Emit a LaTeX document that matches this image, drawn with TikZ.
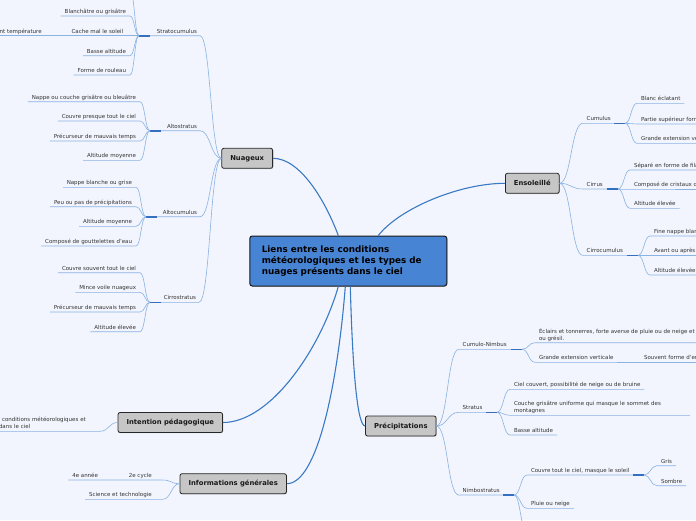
\documentclass[tikz,border=0pt]{standalone}
\usepackage{fontspec}
\setmainfont{DejaVu Sans}
\usetikzlibrary{calc,shadows}
\definecolor{bgc}{RGB}{242,245,253}
\definecolor{linec}{RGB}{138,178,226}
\definecolor{mainc}{RGB}{58,122,196}
\definecolor{stubc}{RGB}{52,112,190}
\definecolor{boxg}{RGB}{198,198,198}
\definecolor{mainfill}{RGB}{72,132,212}
\definecolor{txt}{RGB}{51,51,51}
\newcommand{\uldp}{\rule[-2.7pt]{0pt}{0pt}}
\tikzset{
 mm/.style={to path={let \p1=(\tikztostart), \p2=(\tikztotarget) in .. controls ({(\x1+\x2)/2},\y1) and ({(\x1+\x2)/2},\y2) .. (\tikztotarget)}},
 leaf/.style={font=\fontsize{5.5}{7}\selectfont, text=txt, inner xsep=4pt, inner ysep=0pt, outer sep=0pt, align=left, execute at end node={\uldp}},
 leafL/.style={leaf, anchor=south east},
 leafR/.style={leaf, anchor=south west},
 ul/.style={draw=linec, line width=0.6pt},
 stub/.style={draw=stubc, line width=1.6pt},
 l1/.style={draw=black!85, fill=boxg, rounded corners=2pt, line width=0.8pt, inner xsep=8.5pt, minimum height=20pt, font=\fontsize{6.8}{8}\selectfont\bfseries, text=black!90, drop shadow={shadow xshift=0.7pt, shadow yshift=-0.7pt, opacity=0.35}},
 maincon/.style={draw=mainc, line width=1.1pt},
}
\newcommand{\mmL}[4]{\node[leafL] (#1) at (#2) {#3};\draw[ul] (#1.south west) -- (#1.south east) to[mm] (#4);}
\newcommand{\mmR}[4]{\node[leafR] (#1) at (#2) {#3};\draw[ul] (#4) to[mm] (#1.south west) -- (#1.south east);}
\begin{document}
\begin{tikzpicture}[x=1pt,y=-1pt]
\fill[bgc] (0,0) rectangle (696,520);
\useasboundingbox (0,0) rectangle (696,520);
\clip (0,0) rectangle (696,520);

% central and level-1 nodes
\node[draw=black!90, line width=1pt, fill=mainfill, rounded corners=2.5pt, text width=173pt, align=left, inner xsep=12pt, minimum height=50pt, font=\fontsize{8.8}{11.2}\selectfont\bfseries, text=black, drop shadow={shadow xshift=0.7pt, shadow yshift=-0.7pt, opacity=0.35}] (main) at (348.3,261) {Liens entre les conditions\\météorologiques et les types de\\nuages présents dans le ciel};
\node[l1] (nua) at (247.2,158.3) {Nuageux};
\node[l1] (ens) at (532.3,183.3) {Ensoleillé};
\node[l1] (pre) at (400.8,426) {Précipitations};
\node[l1] (int) at (170.3,422.5) {Intention pédagogique};
\node[l1] (inf) at (233.2,483.7) {Informations générales};

\draw[maincon] (nua.east) .. controls (300,158.3) and (325,200) .. ($(main.north)+(-10,0)$);
\draw[maincon] ($(main.north)+(30,0)$) .. controls (400,208) and (460,183.3) .. (ens.west);
\draw[maincon] ($(main.south)+(2,0)$) .. controls (352,350) and (356,426) .. (pre.west);
\draw[maincon] ($(main.south)+(-10,0)$) .. controls (320,350) and (270,422.5) .. (int.east);
\draw[maincon] ($(main.south)+(-3,0)$) .. controls (338,380) and (318,483.7) .. (inf.east);

% Nuageux
\node[leafL, inner xsep=3pt] (stc) at (200,35.7) {Stratocumulus};
\coordinate (jstc) at (139,35.7);
\draw[ul] (jstc) -- (stc.south east) to[mm] (nua.west);
\draw[stub] (jstc) -- ++(11,0);
\node[leafL, inner xsep=3pt] (ast) at (200,130.7) {Altostratus};
\coordinate (jast) at (150,130.7);
\draw[ul] (jast) -- (ast.south east) to[mm] (nua.west);
\draw[stub] (jast) -- ++(11,0);
\node[leafL, inner xsep=3pt] (acu) at (200,216.7) {Altocumulus};
\coordinate (jacu) at (146,216.7);
\draw[ul] (jacu) -- (acu.south east) to[mm] (nua.west);
\draw[stub] (jacu) -- ++(11,0);
\node[leafL, inner xsep=3pt] (cst) at (199,302.3) {Cirrostratus};
\coordinate (jcst) at (150,302.3);
\draw[ul] (jcst) -- (cst.south east) to[mm] (nua.west);
\draw[stub] (jcst) -- ++(11,0);

\coordinate (sc0) at (130,-10);
\draw[ul] (sc0) to[mm] (jstc);
\mmL{sc1}{130,16}{Blanchâtre ou grisâtre}{jstc}
\mmL{sc2}{127.3,35.7}{Cache mal le soleil}{jstc}
\node[leafL] (sc2a) at (45.7,35.7) {nt température};
\draw[ul] (sc2a.south west) -- (sc2a.south east) -- (sc2.south west);
\mmL{sc3}{130,55.7}{Basse altitude}{jstc}
\mmL{sc4}{130,75}{Forme de rouleau}{jstc}

\mmL{as1}{140,101.7}{Nappe ou couche grisâtre ou bleuâtre}{jast}
\mmL{as2}{140,121}{Couvre presque tout le ciel}{jast}
\mmL{as3}{140,141}{Précurseur de mauvais temps}{jast}
\mmL{as4}{140,160.3}{Altitude moyenne}{jast}

\mmL{ac1}{136,187.3}{Nappe blanche ou grise}{jacu}
\mmL{ac2}{136,206.7}{Peu ou pas de précipitations}{jacu}
\mmL{ac3}{136,226.3}{Altitude moyenne}{jacu}
\mmL{ac4}{136,246}{Composé de gouttelettes d'eau}{jacu}

\mmL{cs1}{140,272.7}{Couvre souvent tout le ciel}{jcst}
\mmL{cs2}{140,292.3}{Mince voile nuageux}{jcst}
\mmL{cs3}{140,312}{Précurseur de mauvais temps}{jcst}
\mmL{cs4}{140,331.7}{Altitude élevée}{jcst}

% Ensoleillé
\node[leafR] (cum) at (582.7,123.3) {Cumulus};
\coordinate (jcum) at (625,123.3);
\draw[ul] (ens.east) to[mm] (cum.south west) -- (jcum);
\draw[stub] (jcum) -- ++(-11,0);
\mmR{cu1}{637,103.3}{Blanc éclatant}{jcum}
\mmR{cu2}{637,124}{Partie supérieur forme de chou-fleur}{jcum}
\mmR{cu3}{637,143.3}{Grande extension verticale}{jcum}

\node[leafR] (cir) at (582.7,189) {Cirrus};
\coordinate (jcir) at (618,189);
\draw[ul] (ens.east) to[mm] (cir.south west) -- (jcir);
\draw[stub] (jcir) -- ++(-11,0);
\mmR{ci1}{630,170}{Séparé en forme de filaments}{jcir}
\mmR{ci2}{630,189}{Composé de cristaux de glace}{jcir}
\mmR{ci3}{630,208.3}{Altitude élevée}{jcir}

\node[leafR] (ccu) at (582.7,255.3) {Cirrocumulus};
\coordinate (jccu) at (638,255.3);
\draw[ul] (ens.east) to[mm] (ccu.south west) -- (jccu);
\draw[stub] (jccu) -- ++(-11,0);
\mmR{cc1}{650,236}{Fine nappe blanche}{jccu}
\mmR{cc2}{650,255.3}{Avant ou après une perturbation}{jccu}
\mmR{cc3}{650,275}{Altitude élevée}{jccu}

% Précipitations
\node[leafR] (cnb) at (458.7,349.3) {Cumulo-Nimbus};
\coordinate (jcnb) at (522,349.3);
\draw[ul] (pre.east) to[mm] (cnb.south west) -- (jcnb);
\draw[stub] (jcnb) -- ++(-11,0);
\mmR{cn1}{535,342.7}{Éclairs et tonnerres, forte averse de pluie ou de neige et\\ou grésil.}{jcnb}
\mmR{cn2}{535,362.3}{Grande extension verticale}{jcnb}
\node[leafR] (cn2a) at (640,362.3) {Souvent forme d'enclume};
\draw[ul] (cn2.south east) -- (cn2a.south west) -- (cn2a.south east);

\node[leafR] (str) at (458.7,412.3) {Stratus};
\coordinate (jstr) at (497,412.3);
\draw[ul] (pre.east) to[mm] (str.south west) -- (jstr);
\draw[stub] (jstr) -- ++(-11,0);
\mmR{st1}{510,389.3}{Ciel couvert, possibilité de neige ou de bruine}{jstr}
\node[leafR, text width=172pt] (st2) at (510,415.3) {Couche grisâtre uniforme qui masque le sommet des\\montagnes};
\draw[ul] (jstr) to[mm] (st2.south west) -- (st2.south east);
\mmR{st3}{510,435}{Basse altitude}{jstr}

\node[leafR] (nbs) at (458.7,495) {Nimbostratus};
\coordinate (jnbs) at (514,495);
\draw[ul] (pre.east) to[mm] (nbs.south west) -- (jnbs);
\draw[stub] (jnbs) -- ++(-11,0);
\mmR{nb1}{527,475}{Couvre tout le ciel, masque le soleil}{jnbs}
\coordinate (jnb1) at (644,475);
\draw[ul] (nb1.south east) -- (jnb1);
\draw[stub] (jnb1) -- ++(-11,0);
\mmR{nb1a}{657,465.7}{Gris}{jnb1}
\mmR{nb1b}{657,485.7}{Sombre}{jnb1}
\mmR{nb2}{527,508.3}{Pluie ou neige}{jnbs}
\coordinate (nb3) at (527,532);
\draw[ul] (jnbs) to[mm] (nb3);

% Intention pédagogique
\node[leafR, text width=97pt] (intc) at (-5,431.3) {\hspace*{3pt}conditions météorologiques et\\dans le ciel};
\draw[ul] (intc.south west) -- (intc.south east) to[mm] (int.west);

% Informations générales
\node[leafL] (cyc) at (155.7,480) {2e cycle};
\node[leafL] (ann) at (102,480) {4e année};
\draw[ul] (ann.south west) -- (ann.south east) -- (cyc.south east) -- ++(7,0) to[mm] (inf.west);
\node[leafL] (sci) at (155.7,499.3) {Science et technologie};
\draw[ul] (sci.south west) -- (sci.south east) -- ++(7,0) to[mm] (inf.west);
\end{tikzpicture}
\end{document}
